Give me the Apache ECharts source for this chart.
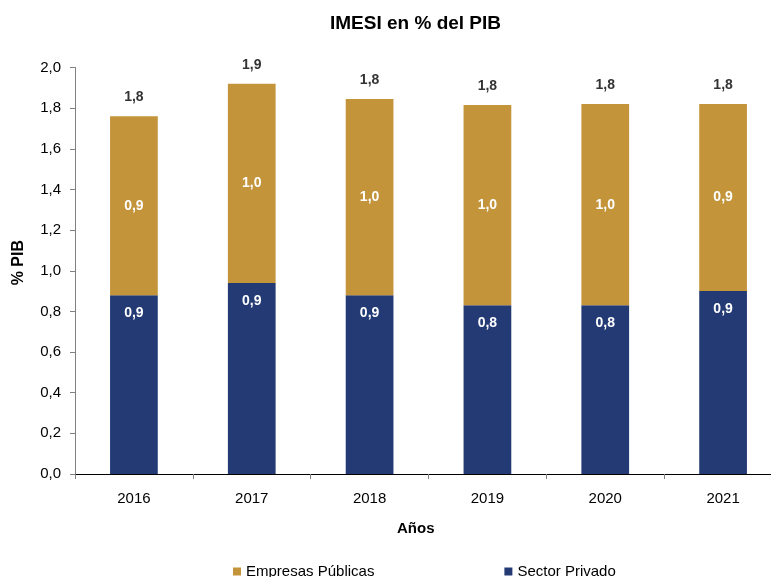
<!DOCTYPE html>
<html lang="es">
<head>
    <meta charset="UTF-8">
    <title>IMESI en % del PIB</title>
    <script src="https://cdn.jsdelivr.net/npm/echarts@6/dist/echarts.min.js"></script>
    <style>
        html, body { margin: 0; padding: 0; background: #fff; overflow: hidden; }
        /* el eje se sale por la derecha en el original */
        #main { width: 782px; height: 577px; }
    </style>
</head>
<body>
<div id="main"></div>
<script>
    // datos
    var years = ['2016', '2017', '2018', '2019', '2020', '2021'];
    var privado = [0.88, 0.94, 0.88, 0.83, 0.83, 0.90];
    var publicas = [0.88, 0.98, 0.965, 0.985, 0.99, 0.92];
    var yTicks = [0, 0.2, 0.4, 0.6, 0.8, 1.0, 1.2, 1.4, 1.6, 1.8, 2.0];

    var font = 'Liberation Sans, Arial, sans-serif';
    function coma(v) { return Number(v).toFixed(1).replace('.', ','); }
    var totals = [];
    for (var i = 0; i < years.length; i++) totals.push(privado[i] + publicas[i]);

    var myChart = echarts.init(document.getElementById('main'));
    var option = {
        animation: false,
        textStyle: { fontFamily: font },
        title: {
            text: 'IMESI en % del PIB',
            left: 325, top: 9,
            textStyle: { fontSize: 19, fontWeight: 'bold', color: '#000', fontFamily: font }
        },
        grid: { left: 75, right: 0, top: 67.5, bottom: 103, containLabel: false },
        legend: {
            data: ['Empresas Públicas', 'Sector Privado'],
            left: 233, top: 564, padding: 0,
            icon: 'rect', itemWidth: 8, itemHeight: 8, itemGap: 130,
            textStyle: { fontSize: 15, color: '#000', fontFamily: font }
        },
        xAxis: {
            type: 'category',
            data: years,
            axisLine: { lineStyle: { color: '#000', width: 1 } },
            axisTick: { show: true, length: 5, lineStyle: { color: '#808080' } },
            axisLabel: { fontSize: 15, color: '#000', margin: 17 }
        },
        yAxis: {
            type: 'value',
            min: yTicks[0], max: yTicks[yTicks.length - 1], interval: 0.2,
            splitLine: { show: false },
            axisLine: { show: true, lineStyle: { color: '#808080' } },
            axisTick: { show: true, length: 5, lineStyle: { color: '#808080' } },
            axisLabel: { fontSize: 15, color: '#000', margin: 14, formatter: coma }
        },
        graphic: [
            { type: 'text', left: 11, top: 240, rotation: Math.PI / 2,
              style: { text: '% PIB', font: 'bold 16px ' + font, fill: '#000' } },
            { type: 'text', left: 397, top: 521,
              style: { text: 'Años', font: 'bold 15px ' + font, fill: '#000' } }
        ],
        series: [
            {
                name: 'Sector Privado', type: 'bar', stack: 'imesi',
                data: privado, barWidth: '40.5%',
                itemStyle: { color: '#233A75' },
                label: { show: true, position: 'insideTop', distance: 11, color: '#fff', fontWeight: 'bold', fontSize: 14,
                    formatter: function (p) { return coma(p.value); } }
            },
            {
                name: 'Empresas Públicas', type: 'bar', stack: 'imesi',
                data: publicas,
                itemStyle: { color: '#C4943B' },
                label: { show: true, position: 'inside', color: '#fff', fontWeight: 'bold', fontSize: 14,
                    formatter: function (p) { return coma(p.value); } }
            },
            {
                name: 'Total', type: 'bar', stack: 'imesi',
                data: years.map(function () { return 0; }),
                itemStyle: { color: 'transparent' },
                label: { show: true, position: 'top', distance: 12, color: '#333', fontWeight: 'bold', fontSize: 14,
                    formatter: function (p) { return coma(totals[p.dataIndex]); } }
            }
        ]
    };
    myChart.setOption(option);
</script>
</body>
</html>
